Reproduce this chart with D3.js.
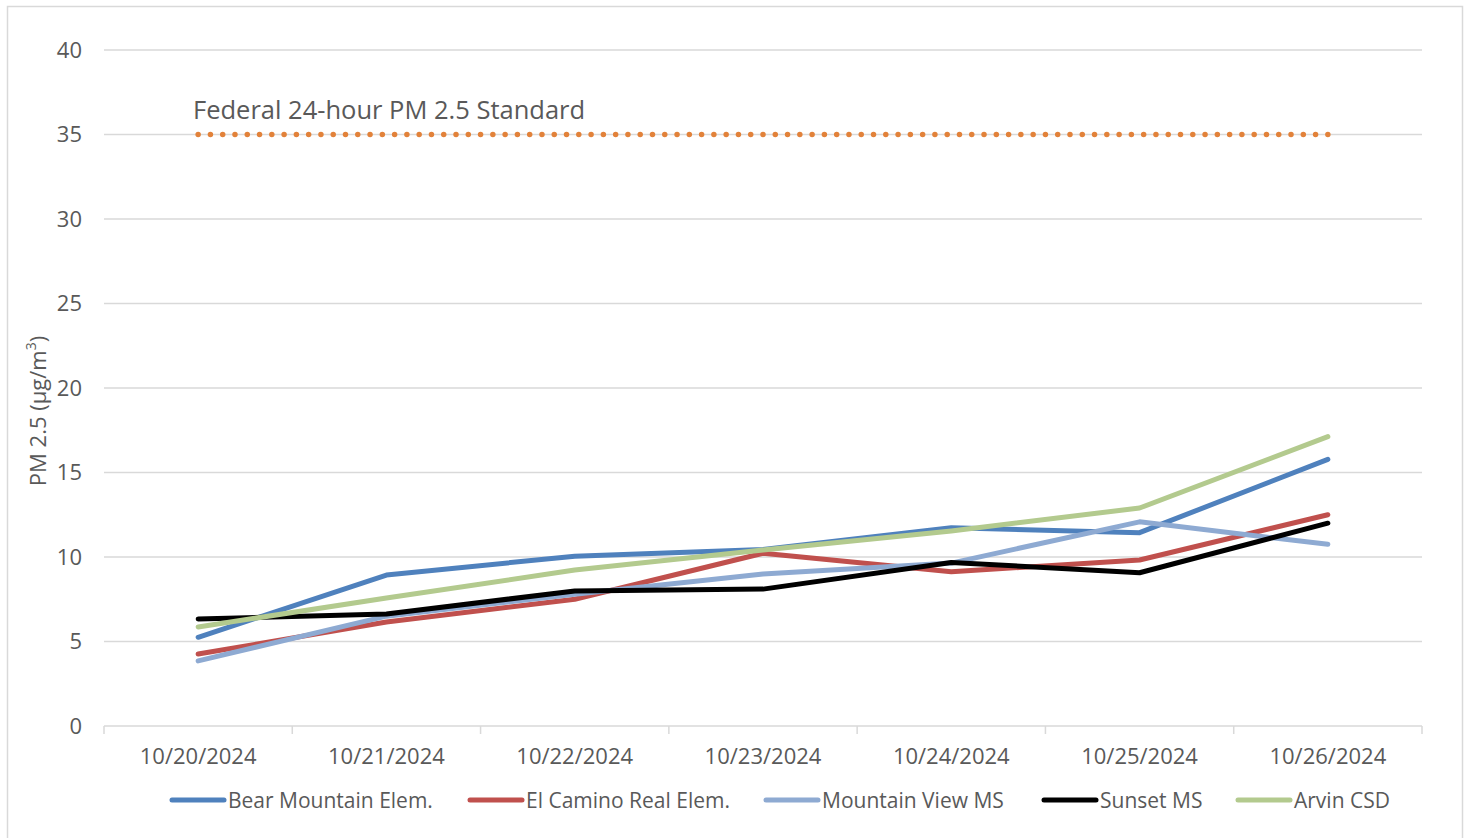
<!DOCTYPE html>
<html>
<head>
<meta charset="utf-8">
<script src="https://cdn.jsdelivr.net/npm/d3@7"></script>
<style>
  body { margin: 0; background: #fff; }
  text { font-family: "Open Sans", "DejaVu Sans", sans-serif; fill: #595959; }
</style>
</head>
<body>
<div id="chart"></div>
<script>
// data
const dates = ['10/20/2024', '10/21/2024', '10/22/2024', '10/23/2024', '10/24/2024', '10/25/2024', '10/26/2024'];
const bearMountain = [5.25, 8.93, 10.05, 10.45, 11.73, 11.44, 15.78];
const elCamino = [4.26, 6.15, 7.5, 10.22, 9.13, 9.82, 12.5];
const mountainView = [3.85, 6.5, 7.8, 8.99, 9.64, 12.08, 10.75];
const sunset = [6.33, 6.63, 7.99, 8.1, 9.68, 9.07, 12.0];
const arvin = [5.86, 7.57, 9.23, 10.42, 11.54, 12.9, 17.12];
const yTicks = [0, 5, 10, 15, 20, 25, 30, 35, 40];
const standard = 35;

const series = [
  { name: 'Bear Mountain Elem.', values: bearMountain, color: '#4f81bd' },
  { name: 'El Camino Real Elem.', values: elCamino, color: '#c0504d' },
  { name: 'Mountain View MS', values: mountainView, color: '#8eaad2' },
  { name: 'Sunset MS', values: sunset, color: '#000000' },
  { name: 'Arvin CSD', values: arvin, color: '#b3ca8e' }
];

const W = 1467, H = 838;
const svg = d3.select('#chart').append('svg').attr('width', W).attr('height', H);

// chart frame
svg.append('rect').attr('x', 7.5).attr('y', 6.5).attr('width', 1455).attr('height', 840)
  .attr('fill', 'none').attr('stroke', '#d9d9d9').attr('stroke-width', 1.5);

const plotL = 104, plotR = 1422, plotT = 50, plotB = 726;
const x = d3.scaleBand().domain(dates).range([plotL, plotR]);
const y = d3.scaleLinear().domain([0, 40]).range([plotB, plotT]);

// gridlines
svg.append('g').selectAll('line').data(yTicks.filter(d => d > 0)).join('line')
  .attr('x1', plotL).attr('x2', plotR)
  .attr('y1', d => y(d)).attr('y2', d => y(d))
  .attr('stroke', '#d9d9d9').attr('stroke-width', 1.5);

// y labels
svg.append('g').selectAll('text').data(yTicks).join('text')
  .attr('x', 82).attr('y', d => y(d)).attr('dy', '0.36em')
  .attr('text-anchor', 'end').attr('font-size', 22).text(d => d);

// x axis line and tick marks between categories
svg.append('line').attr('x1', plotL).attr('x2', plotR).attr('y1', plotB).attr('y2', plotB)
  .attr('stroke', '#d9d9d9').attr('stroke-width', 1.5);
const bounds = dates.map(d => x(d)).concat([plotR]);
svg.append('g').selectAll('line').data(bounds).join('line')
  .attr('x1', d => d).attr('x2', d => d).attr('y1', plotB).attr('y2', plotB + 8)
  .attr('stroke', '#d9d9d9').attr('stroke-width', 1.5);

svg.append('g').selectAll('text').data(dates).join('text')
  .attr('x', d => x(d) + x.bandwidth() / 2).attr('y', 764)
  .attr('text-anchor', 'middle').attr('font-size', 22).text(d => d);

// axis title
const yt = svg.append('text').attr('transform', 'translate(46,411) rotate(-90)')
  .attr('text-anchor', 'middle').attr('font-size', 22);
yt.append('tspan').text('PM 2.5 (µg/m');
yt.append('tspan').attr('font-size', 14).attr('dy', -10).text('3');
yt.append('tspan').attr('dy', 10).text(')');

const cx = d => x(d) + x.bandwidth() / 2;

// standard line
const sx1 = cx(dates[0]), sx2 = cx(dates[dates.length - 1]);
svg.append('line')
  .attr('x1', sx1).attr('x2', sx2)
  .attr('y1', y(standard)).attr('y2', y(standard))
  .attr('stroke', '#e2823a').attr('stroke-width', 5.5)
  .attr('stroke-linecap', 'round').attr('stroke-dasharray', `0 ${(sx2 - sx1) / 92}`);
svg.append('text').attr('x', 193).attr('y', 119).attr('font-size', 25.5)
  .text('Federal 24-hour PM 2.5 Standard');

// series lines
const line = d3.line().x((d, i) => cx(dates[i])).y(d => y(d));
svg.append('g').selectAll('path').data(series).join('path')
  .attr('d', s => line(s.values))
  .attr('fill', 'none').attr('stroke', s => s.color).attr('stroke-width', 5)
  .attr('stroke-linecap', 'round').attr('stroke-linejoin', 'round');

// legend
const legendX = [170, 468, 764, 1042, 1236];
const lg = svg.append('g').selectAll('g').data(series).join('g')
  .attr('transform', (s, i) => `translate(${legendX[i]},800)`);
lg.append('line').attr('x1', 2).attr('x2', 54).attr('y1', 0).attr('y2', 0)
  .attr('stroke', s => s.color).attr('stroke-width', 5).attr('stroke-linecap', 'round');
lg.append('text').attr('x', 58).attr('dy', '0.36em').attr('font-size', 21).text(s => s.name);
</script>
</body>
</html>
